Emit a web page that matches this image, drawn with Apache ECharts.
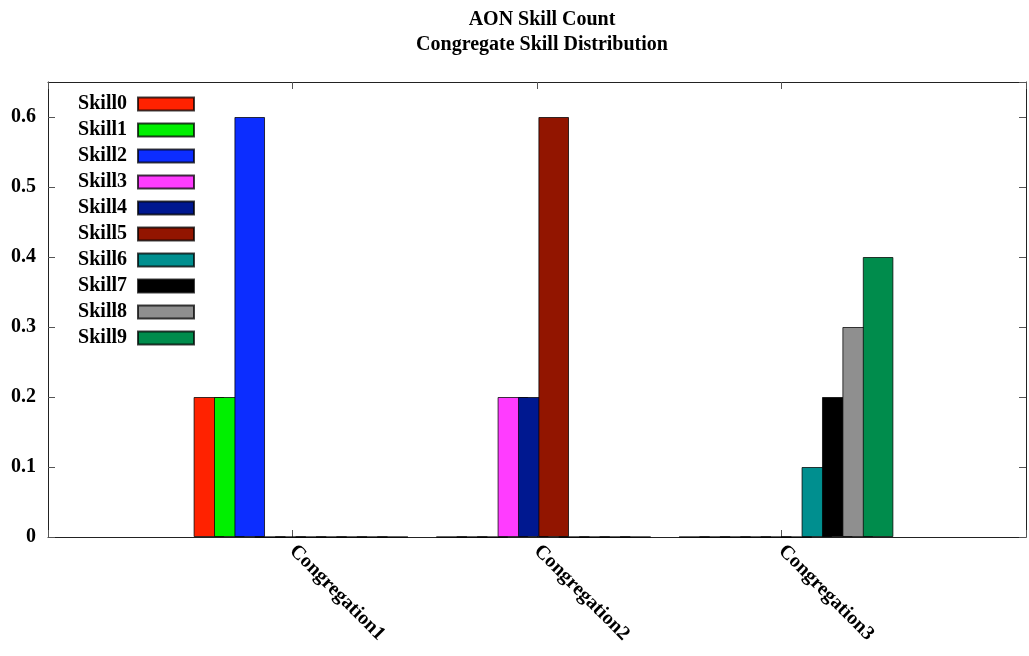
<!DOCTYPE html>
<html>
<head>
<meta charset="utf-8">
<script src="https://cdn.jsdelivr.net/npm/echarts@6/dist/echarts.min.js"></script>
<style>
  html, body { margin: 0; padding: 0; background: #fff; }
  #main { width: 1029px; height: 656px; }
</style>
</head>
<body>
<div id="main"></div>
<script>
// data
var categories = ['', 'Congregation1', 'Congregation2', 'Congregation3', ''];
var skillNames = ['Skill0', 'Skill1', 'Skill2', 'Skill3', 'Skill4', 'Skill5', 'Skill6', 'Skill7', 'Skill8', 'Skill9'];
var skill0 = [0.2, 0, 0];
var skill1 = [0.2, 0, 0];
var skill2 = [0.6, 0, 0];
var skill3 = [0, 0.2, 0];
var skill4 = [0, 0.2, 0];
var skill5 = [0, 0.6, 0];
var skill6 = [0, 0, 0.1];
var skill7 = [0, 0, 0.2];
var skill8 = [0, 0, 0.3];
var skill9 = [0, 0, 0.4];
var skillValues = [skill0, skill1, skill2, skill3, skill4, skill5, skill6, skill7, skill8, skill9];
var skillColors = ['#ff2200', '#00f000', '#0c2dff', '#ff3cff', '#001890', '#921500', '#008f8f', '#000000', '#8f8f8f', '#008c4c'];

var font = 'Liberation Serif';
var chart = echarts.init(document.getElementById('main'));

var series = skillNames.map(function (name, i) {
  return {
    name: name,
    type: 'bar',
    xAxisIndex: 2,
    yAxisIndex: 2,
    barWidth: 30.6,
    barGap: '-33.3%',
    // pad the empty end positions of the axis
    data: ['-'].concat(skillValues[i]).concat(['-']),
    itemStyle: {
      color: skillColors[i],
      borderColor: 'rgba(0,0,0,0.75)',
      borderWidth: 1
    },
    animation: false
  };
});

chart.setOption({
  backgroundColor: '#fff',
  animation: false,
  title: {
    text: 'AON Skill Count\nCongregate Skill Distribution',
    left: 537,
    textAlign: 'center',
    top: 2,
    textStyle: {
      fontFamily: font,
      fontWeight: 'bold',
      fontSize: 20,
      lineHeight: 25,
      color: '#000'
    }
  },
  legend: {
    orient: 'vertical',
    right: 829,
    top: 89,
    align: 'right',
    icon: 'rect',
    itemWidth: 56,
    itemHeight: 13,
    itemGap: 6,
    data: skillNames,
    textStyle: {
      fontFamily: font,
      fontWeight: 'bold',
      fontSize: 20,
      lineHeight: 20,
      color: '#000',
      padding: [0, 6, 0, 0]
    }
  },
  grid: [
    { left: 48, top: 82, width: 978, height: 455 },
    { left: 58, top: 82, width: 978, height: 455 }
  ],
  xAxis: [
    {
      type: 'category',
      gridIndex: 0,
      position: 'bottom',
      data: categories,
      boundaryGap: false,
      axisLine: { onZero: false, lineStyle: { color: '#222', width: 1 } },
      axisTick: { inside: true, length: 7, lineStyle: { color: '#555' } },
      axisLabel: {
        rotate: -45,
        margin: 11,
        interval: 0,
        fontFamily: font,
        fontWeight: 'bold',
        fontSize: 20,
        color: '#000'
      }
    },
    {
      type: 'category',
      gridIndex: 0,
      position: 'top',
      data: categories,
      boundaryGap: false,
      axisLine: { onZero: false, lineStyle: { color: '#222', width: 1 } },
      axisTick: { inside: true, length: 7, interval: 0, lineStyle: { color: '#555' } },
      axisLabel: { show: false }
    },
    {
      type: 'category',
      gridIndex: 1,
      data: categories,
      boundaryGap: false,
      show: false
    }
  ],
  yAxis: [
    {
      type: 'value',
      gridIndex: 0,
      position: 'left',
      min: 0,
      max: 0.65,
      interval: 0.1,
      splitLine: { show: false },
      axisLine: { show: true, onZero: false, lineStyle: { color: '#222', width: 1 } },
      axisTick: { show: true, inside: true, length: 7, lineStyle: { color: '#555' } },
      axisLabel: {
        margin: 12,
        showMaxLabel: false,
        fontFamily: font,
        fontWeight: 'bold',
        fontSize: 20,
        color: '#000'
      }
    },
    {
      type: 'value',
      gridIndex: 0,
      position: 'right',
      min: 0,
      max: 0.65,
      interval: 0.1,
      splitLine: { show: false },
      axisLine: { show: true, onZero: false, lineStyle: { color: '#222', width: 1 } },
      axisTick: { show: true, inside: true, length: 7, lineStyle: { color: '#555' } },
      axisLabel: { show: false }
    },
    {
      type: 'value',
      gridIndex: 1,
      min: 0,
      max: 0.65,
      show: false
    }
  ],
  series: series
});
</script>
</body>
</html>
